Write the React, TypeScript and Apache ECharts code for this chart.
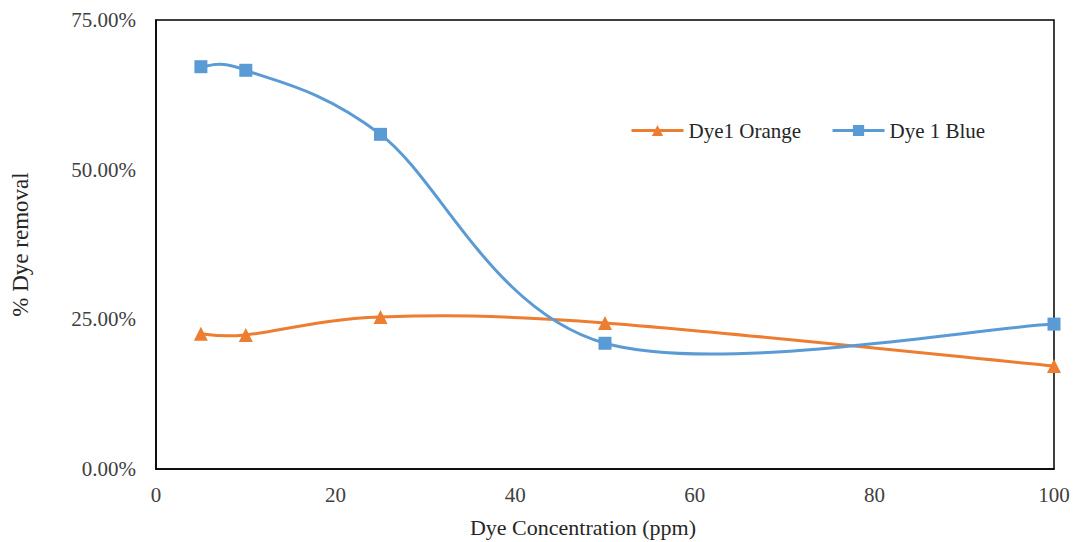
import React, { useEffect, useRef } from "react";
import * as echarts from "echarts";

const concentrations = [5, 10, 25, 50, 100];
const orangeRemoval = [0.226, 0.224, 0.254, 0.244, 0.172];
const blueRemoval = [0.672, 0.666, 0.559, 0.21, 0.242];
const xTicks = [0, 20, 40, 60, 80, 100];
const yTicks = [0, 0.25, 0.5, 0.75];

const FONT = "'Liberation Serif', 'Times New Roman', serif";
const ORANGE = "#ED7D31";
const BLUE = "#5B9BD5";

function splineSeries(name: string, ys: number[], color: string) {
  return {
    name: name + "-curve",
    type: "custom",
    z: 2,
    silent: true,
    data: concentrations.map((x, i) => [x, ys[i]]),
    encode: { x: 0, y: 1 },
    renderItem: (params: any, api: any) => {
      const i = params.dataIndex;
      const n = concentrations.length;
      if (i >= n - 1) return { type: "group", children: [] };
      const pt = (k: number) => {
        const kk = Math.max(0, Math.min(n - 1, k));
        return api.coord([concentrations[kk], ys[kk]]);
      };
      const p0 = pt(i - 1);
      const p1 = pt(i);
      const p2 = pt(i + 1);
      const p3 = pt(i + 2);
      const t = 1 / 6;
      return {
        type: "bezierCurve",
        shape: {
          x1: p1[0],
          y1: p1[1],
          cpx1: p1[0] + (p2[0] - p0[0]) * t,
          cpy1: p1[1] + (p2[1] - p0[1]) * t,
          cpx2: p2[0] - (p3[0] - p1[0]) * t,
          cpy2: p2[1] - (p3[1] - p1[1]) * t,
          x2: p2[0],
          y2: p2[1],
        },
        style: { stroke: color, lineWidth: 3, fill: "none" },
      };
    },
  };
}

export default function App() {
  const ref = useRef<HTMLDivElement>(null);
  useEffect(() => {
    if (!ref.current) return;
    const chart = echarts.init(ref.current, undefined, { renderer: "svg" });
    const pair = (ys: number[]) => concentrations.map((x, i) => [x, ys[i]]);
    chart.setOption({
      animation: false,
      backgroundColor: "#ffffff",
      textStyle: { fontFamily: FONT },
      grid: {
        left: 156,
        top: 20,
        width: 898,
        height: 449,
        show: true,
        borderColor: "#000000",
        borderWidth: 1.5,
        backgroundColor: "transparent",
        containLabel: false,
        outerBoundsMode: "none",
      },
      legend: {
        left: 630,
        top: 120,
        padding: 0,
        itemWidth: 52,
        itemHeight: 14,
        itemGap: 30,
        textStyle: { fontFamily: FONT, fontSize: 21, color: "#262626" },
        data: [
          { name: "Dye1 Orange", lineStyle: { color: ORANGE, width: 3, opacity: 1 } },
          { name: "Dye 1 Blue", lineStyle: { color: BLUE, width: 3, opacity: 1 } },
        ],
      },
      xAxis: {
        type: "value",
        min: xTicks[0],
        max: xTicks[xTicks.length - 1],
        interval: 20,
        axisLine: { show: true, lineStyle: { color: "#000", width: 1.5 } },
        axisTick: { show: false },
        splitLine: { show: false },
        axisLabel: { fontFamily: FONT, fontSize: 21, color: "#404040", margin: 15 },
        name: "Dye Concentration (ppm)",
        nameLocation: "middle",
        nameGap: 47,
        nameTextStyle: {
          fontFamily: FONT,
          fontSize: 22,
          color: "#262626",
          padding: [0, 44, 0, 0],
        },
      },
      yAxis: {
        type: "value",
        min: yTicks[0],
        max: yTicks[yTicks.length - 1],
        interval: 0.25,
        axisLine: { show: true, lineStyle: { color: "#000", width: 1.5 } },
        axisTick: { show: false },
        splitLine: { show: false },
        axisLabel: {
          fontFamily: FONT,
          fontSize: 21,
          color: "#404040",
          margin: 20,
          formatter: (v: number) => (v * 100).toFixed(2) + "%",
        },
        name: "% Dye removal",
        nameLocation: "middle",
        nameGap: 124,
        nameTextStyle: { fontFamily: FONT, fontSize: 23, color: "#262626" },
      },
      series: [
        splineSeries("Dye1 Orange", orangeRemoval, ORANGE),
        splineSeries("Dye 1 Blue", blueRemoval, BLUE),
        {
          name: "Dye1 Orange",
          type: "line",
          z: 3,
          data: pair(orangeRemoval),
          symbol: "triangle",
          symbolSize: 14,
          color: ORANGE,
          lineStyle: { width: 3, color: ORANGE, opacity: 0 },
          itemStyle: { color: ORANGE },
        },
        {
          name: "Dye 1 Blue",
          type: "line",
          z: 3,
          data: pair(blueRemoval),
          symbol: "rect",
          symbolSize: 13,
          color: BLUE,
          lineStyle: { width: 3, color: BLUE, opacity: 0 },
          itemStyle: { color: BLUE },
        },
      ],
    });
    return () => chart.dispose();
  }, []);
  return (
    <div
      ref={ref}
      style={{ position: "absolute", left: 0, top: 0, width: 1073, height: 542, background: "#fff" }}
    />
  );
}
